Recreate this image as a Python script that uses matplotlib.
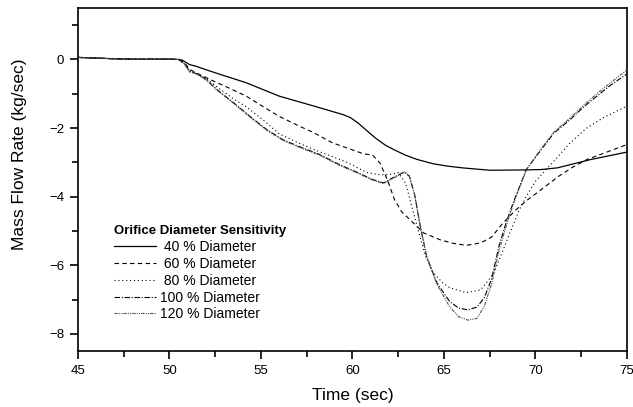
import matplotlib
matplotlib.use("Agg")
import matplotlib.pyplot as plt
from matplotlib.ticker import MultipleLocator

plt.rcParams['font.family'] = ['Liberation Sans', 'DejaVu Sans']

# mass flow rate (kg/sec) vs time (sec)
t40 = [45, 46, 47, 48, 49, 50, 50.5, 50.7, 51.1, 51.4, 52.0, 52.8, 54.2, 56.0, 57.9,
       59.5, 59.9, 60.3, 60.6, 60.9, 61.3, 61.8, 62.3, 62.9, 63.5, 64.4, 65.2, 66.0,
       67.5, 69.5, 70.3, 71.2, 73.0, 75.0]
q40 = [0.06, 0.04, 0.02, 0.01, 0.01, 0.01, 0.0, -0.02, -0.15, -0.19, -0.30, -0.44,
       -0.68, -1.07, -1.36, -1.61, -1.70, -1.85, -1.99, -2.13, -2.31, -2.50, -2.64,
       -2.79, -2.91, -3.04, -3.11, -3.16, -3.23, -3.22, -3.21, -3.16, -2.92, -2.70]

t60 = [45, 46, 47, 48, 49, 50, 50.5, 50.8, 51.1, 51.5, 52.2, 53.2, 54.2, 55.1, 56.0,
       57.0, 57.9, 58.9, 59.7, 60.6, 61.1, 61.5, 61.9, 62.3, 62.7, 63.1, 63.9, 64.8,
       65.5, 66.2, 67.0, 67.6, 68.2, 68.9, 69.5, 70.3, 71.2, 72.0, 72.8, 73.9, 75.0]
q60 = [0.06, 0.04, 0.02, 0.01, 0.01, 0.01, 0.0, -0.08, -0.29, -0.40, -0.58, -0.82,
       -1.07, -1.37, -1.66, -1.92, -2.14, -2.43, -2.58, -2.75, -2.79, -3.02, -3.50,
       -4.09, -4.45, -4.65, -5.06, -5.26, -5.36, -5.42, -5.35, -5.18, -4.78, -4.40,
       -4.12, -3.80, -3.43, -3.15, -2.92, -2.70, -2.48]

t80 = [45, 46, 47, 48, 49, 50, 50.5, 50.8, 51.1, 51.5, 52.0, 52.6, 53.5, 54.2, 55.2,
       56.0, 57.0, 57.9, 58.9, 59.7, 60.8, 61.5, 62.0, 62.5, 62.9, 63.2, 63.6, 64.0,
       64.4, 64.9, 65.3, 66.2, 67.0, 67.7, 68.2, 68.6, 69.1, 69.5, 70.0, 70.6, 71.2,
       71.9, 72.8, 73.7, 75.0]
q80 = [0.06, 0.04, 0.02, 0.01, 0.01, 0.01, 0.0, -0.10, -0.33, -0.42, -0.55, -0.80,
       -1.15, -1.38, -1.80, -2.17, -2.42, -2.63, -2.83, -3.00, -3.30, -3.36, -3.36,
       -3.30, -3.60, -4.20, -5.00, -5.75, -6.20, -6.50, -6.65, -6.80, -6.72, -6.25,
       -5.60, -5.06, -4.40, -3.99, -3.55, -3.20, -2.85, -2.43, -2.00, -1.70, -1.36]

t100 = [45, 46, 47, 48, 49, 50, 50.5, 50.8, 51.1, 51.5, 52.0, 52.6, 53.5, 54.4, 55.3,
        56.2, 57.0, 58.2, 59.3, 60.3, 61.1, 61.7, 62.2, 62.8, 63.1, 63.4, 63.7, 64.05,
        64.6, 65.3, 65.8, 66.3, 66.8, 67.2, 67.6, 68.0, 68.4, 68.8, 69.5, 70.0, 70.6,
        71.0, 71.9, 72.6, 73.35, 74.1, 75.0]
q100 = [0.06, 0.04, 0.02, 0.01, 0.01, 0.01, 0.0, -0.12, -0.35, -0.42, -0.58, -0.88,
        -1.26, -1.66, -2.04, -2.34, -2.52, -2.77, -3.07, -3.30, -3.50, -3.60, -3.45,
        -3.29, -3.40, -3.95, -4.85, -5.74, -6.50, -7.05, -7.25, -7.30, -7.22, -6.95,
        -6.40, -5.45, -4.75, -4.15, -3.21, -2.85, -2.43, -2.15, -1.75, -1.40, -1.07,
        -0.75, -0.42]

t120 = [45, 46, 47, 48, 49, 50, 50.5, 50.8, 51.1, 51.5, 52.0, 52.6, 53.5, 54.4, 55.3,
        56.2, 57.0, 58.2, 59.3, 60.3, 61.1, 61.7, 62.2, 62.85, 63.1, 63.4, 63.7, 64.05,
        64.6, 65.3, 65.8, 66.3, 66.8, 67.2, 67.6, 68.0, 68.4, 68.8, 69.5, 70.0, 70.6,
        71.0, 71.9, 72.6, 73.35, 74.1, 75.0]
q120 = [0.06, 0.04, 0.02, 0.01, 0.01, 0.01, 0.0, -0.12, -0.36, -0.43, -0.60, -0.90,
        -1.28, -1.68, -2.06, -2.36, -2.54, -2.79, -3.09, -3.32, -3.52, -3.62, -3.48,
        -3.27, -3.38, -3.95, -4.85, -5.74, -6.55, -7.20, -7.50, -7.60, -7.55, -7.20,
        -6.55, -5.60, -4.85, -4.20, -3.22, -2.83, -2.40, -2.12, -1.70, -1.35, -1.00,
        -0.68, -0.30]

labels = [' 40 % Diameter', ' 60 % Diameter', ' 80 % Diameter', '100 % Diameter',
          '120 % Diameter']

fig = plt.figure(figsize=(6.33, 4.07), dpi=100)
ax = fig.add_axes([0.1232, 0.1376, 0.8673, 0.8427])

ax.plot(t40, q40, color='black', lw=0.9, linestyle='-', label=labels[0])
ax.plot(t60, q60, color='black', lw=0.8, linestyle=(0, (4, 3)), label=labels[1])
ax.plot(t80, q80, color='black', lw=0.8, linestyle=(0, (1, 2.5)), label=labels[2])
ax.plot(t100, q100, color='black', lw=0.8, linestyle=(0, (5, 1.5, 1, 1.5)), label=labels[3])
ax.plot(t120, q120, color='#555555', lw=0.8, linestyle=(0, (3, 1, 1, 1, 1, 1)), label=labels[4])

ax.set_xlim(45, 75)
ax.set_ylim(-8.5, 1.5)
ax.xaxis.set_major_locator(MultipleLocator(5))
ax.xaxis.set_minor_locator(MultipleLocator(2.5))
ax.yaxis.set_major_locator(MultipleLocator(2))
ax.yaxis.set_minor_locator(MultipleLocator(1))
ax.tick_params(which='major', direction='out', length=6, width=1.2, labelsize=9.5, pad=4)
ax.tick_params(which='minor', direction='out', length=4, width=1.2)
for s in ax.spines.values():
    s.set_linewidth(1.2)

ax.set_xlabel('Time (sec)', fontsize=12.5)
ax.set_ylabel('Mass Flow Rate (kg/sec)', fontsize=12.5)
ax.xaxis.set_label_coords(0.5, -0.108)
ax.yaxis.set_label_coords(-0.093, 0.575)

leg = ax.legend(loc='upper left', bbox_to_anchor=(0.066, 0.366), frameon=False,
                title='Orifice Diameter Sensitivity',
                title_fontproperties={'weight': 'bold', 'size': 9.5},
                fontsize=10, handlelength=3.0, handletextpad=0.3, labelspacing=0.2,
                borderpad=0, borderaxespad=0, alignment='left')

fig.savefig('out.png', dpi=100)
